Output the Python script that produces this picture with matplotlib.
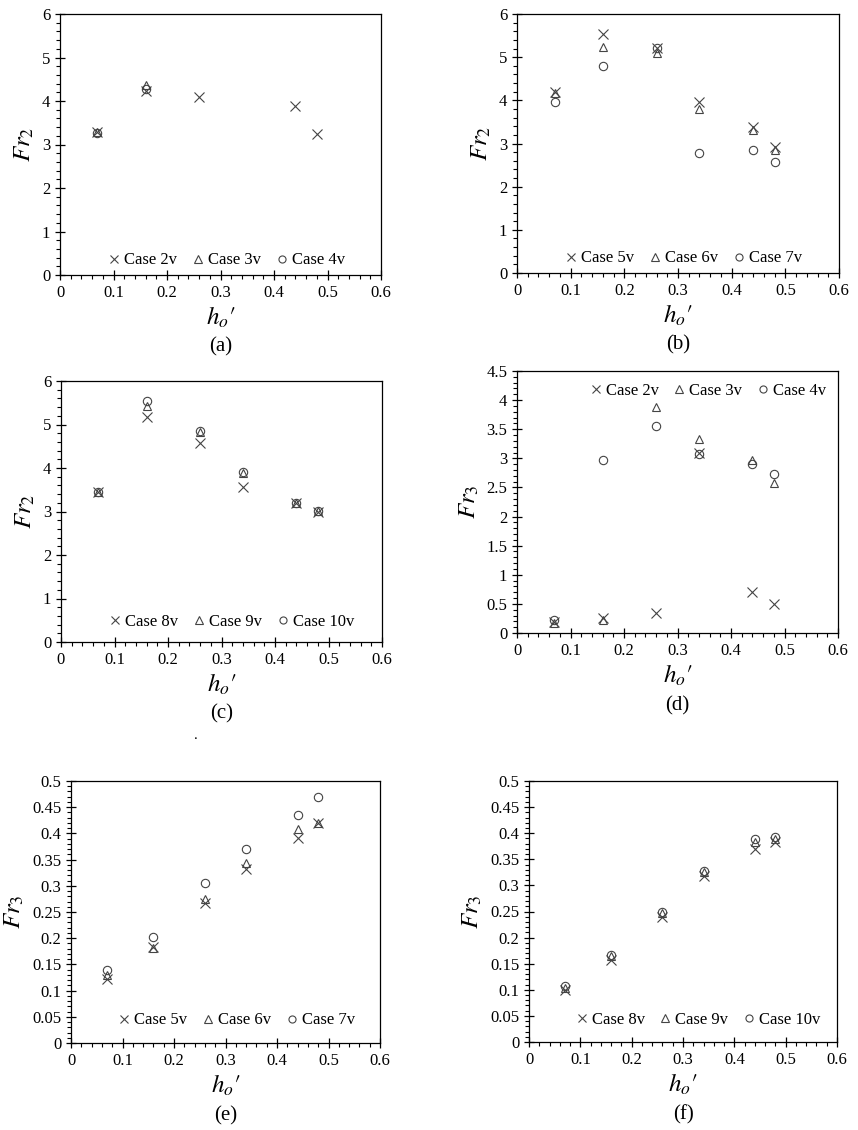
import matplotlib
matplotlib.use('Agg')
import matplotlib.pyplot as plt
from matplotlib.ticker import MultipleLocator, FormatStrFormatter
import numpy as np

plt.rcParams['font.family'] = ['Liberation Serif', 'DejaVu Serif']
plt.rcParams['mathtext.fontset'] = 'stix'

# relative opening height h_o'
ho = [0.07, 0.16, 0.26, 0.34, 0.44, 0.48]
ho_a = [0.07, 0.16, 0.26, 0.44, 0.48]

# (a) Fr2, cases 2v-4v
fr2_case2 = [3.28, 4.23, 4.10, 3.89, 3.24]
fr2_case3 = [3.28, 4.37]
fr2_case4 = [3.27, 4.28]

# (b) Fr2, cases 5v-7v
fr2_case5 = [4.20, 5.54, 5.22, 3.96, 3.38, 2.91]
fr2_case6 = [4.16, 5.24, 5.10, 3.80, 3.32, 2.86]
fr2_case7 = [3.96, 4.79, 5.22, 2.78, 2.85, 2.58]

# (c) Fr2, cases 8v-10v
fr2_case8 = [3.44, 5.17, 4.57, 3.57, 3.19, 3.00]
fr2_case9 = [3.45, 5.43, 4.83, 3.88, 3.19, 3.01]
fr2_case10 = [3.45, 5.54, 4.86, 3.91, 3.20, 3.02]

# (d) Fr3, cases 2v-4v
fr3_case2 = [0.19, 0.26, 0.34, 3.10, 0.70, 0.49]
fr3_case3 = [0.17, 0.23, 3.88, 3.34, 2.97, 2.57]
fr3_case4 = [0.23, 2.97, 3.55, 3.07, 2.90, 2.73]

# (e) Fr3, cases 5v-7v
fr3_case5 = [0.123, 0.183, 0.268, 0.333, 0.391, 0.420]
fr3_case6 = [0.129, 0.181, 0.274, 0.343, 0.408, 0.419]
fr3_case7 = [0.139, 0.202, 0.305, 0.370, 0.435, 0.469]

# (f) Fr3, cases 8v-10v
fr3_case8 = [0.099, 0.157, 0.239, 0.318, 0.369, 0.384]
fr3_case9 = [0.104, 0.164, 0.248, 0.325, 0.383, 0.389]
fr3_case10 = [0.107, 0.166, 0.250, 0.328, 0.388, 0.393]

W, H = 858, 1130
fig = plt.figure(figsize=(W / 100, H / 100), dpi=100)

def box(l, r, t, b):
    return [l / W, 1 - b / H, (r - l) / W, (b - t) / H]

mc = '#444444'

def panel(rect, series, names, ylab, ymax, ymaj, ymin, letter, legloc):
    ax = fig.add_axes(rect)
    mk = ['x', '^', 'o']
    ms = [7, 6, 6]
    for (xs, ys), name, m, s in zip(series, names, mk, ms):
        ax.plot(xs, ys, linestyle='none', marker=m, markersize=s,
                markerfacecolor='none', markeredgecolor=mc,
                markeredgewidth=0.8, label=name)
    ax.set_xlim(0, 0.6)
    ax.set_ylim(0, ymax)
    ax.xaxis.set_major_locator(MultipleLocator(0.1))
    ax.xaxis.set_minor_locator(MultipleLocator(0.02))
    ax.yaxis.set_major_locator(MultipleLocator(ymaj))
    ax.yaxis.set_minor_locator(MultipleLocator(ymin))
    ax.xaxis.set_major_formatter(FormatStrFormatter('%g'))
    ax.yaxis.set_major_formatter(FormatStrFormatter('%g'))
    ax.tick_params(which='major', direction='inout', length=7, width=0.9,
                   labelsize=12, top=False, right=False)
    ax.tick_params(which='minor', direction='out', length=3, width=0.8,
                   top=False, right=False)
    for sp in ax.spines.values():
        sp.set_linewidth(0.9)
    ax.set_ylabel(ylab, fontsize=18, labelpad=4)
    ax.set_xlabel(r"$h_o\prime$", fontsize=18, labelpad=3)
    ax.legend(loc=legloc, ncol=3, frameon=False, fontsize=12,
              handlelength=0.7, handletextpad=0.25, columnspacing=0.9,
              borderaxespad=0.3, markerscale=0.85)
    ax.text(0.5, -0.24, '(' + letter + ')', transform=ax.transAxes,
            ha='center', va='top', fontsize=15)
    return ax

names_a = ['Case 2v', 'Case 3v', 'Case 4v']
names_b = ['Case 5v', 'Case 6v', 'Case 7v']
names_c = ['Case 8v', 'Case 9v', 'Case 10v']

panel(box(60, 381, 14, 275),
      [(ho_a, fr2_case2), (ho[:2], fr2_case3), (ho[:2], fr2_case4)],
      names_a, r'$Fr_2$', 6, 1, 0.2, 'a', (0.13, 0.0))
panel(box(517, 839, 14, 273),
      [(ho, fr2_case5), (ho, fr2_case6), (ho, fr2_case7)],
      names_b, r'$Fr_2$', 6, 1, 0.2, 'b', (0.13, 0.0))
panel(box(61, 382, 381, 642),
      [(ho, fr2_case8), (ho, fr2_case9), (ho, fr2_case10)],
      names_c, r'$Fr_2$', 6, 1, 0.2, 'c', (0.13, 0.02))
panel(box(517, 838, 371, 633),
      [(ho, fr3_case2), (ho, fr3_case3), (ho, fr3_case4)],
      names_a, r'$Fr_3$', 4.5, 0.5, 0.1, 'd', 'upper right')
panel(box(71, 380, 781, 1043),
      [(ho, fr3_case5), (ho, fr3_case6), (ho, fr3_case7)],
      names_b, r'$Fr_3$', 0.5, 0.05, 0.01, 'e', (0.13, 0.03))
panel(box(529, 837, 781, 1042),
      [(ho, fr3_case8), (ho, fr3_case9), (ho, fr3_case10)],
      names_c, r'$Fr_3$', 0.5, 0.05, 0.01, 'f', (0.13, 0.03))

fig.text(196 / W, 1 - 742 / H, '.', ha='center', va='bottom', fontsize=11)

fig.savefig('out.png', dpi=100)
